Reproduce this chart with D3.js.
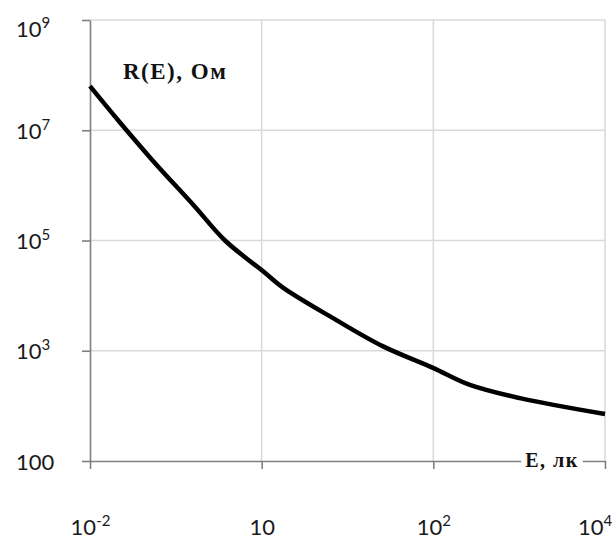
<!DOCTYPE html>
<html>
<head>
<meta charset="utf-8">
<title>R(E)</title>
<style>
  body { margin: 0; background: #fff; }
  svg { display: block; }
  .tick-label { font-family: Lato, "Open Sans", sans-serif; font-size: 22px; fill: #1a1a1a; }
  .grid line { stroke: #d9d9d9; stroke-width: 1.5px; }
  .axis path, .axis line { stroke: #7f7f7f; stroke-width: 1.6px; }
  .name { font-family: "Liberation Serif", "Times New Roman", serif; font-weight: bold; fill: #111; }
</style>
</head>
<body>
<script src="https://cdn.jsdelivr.net/npm/d3@7"></script>
<script>
// illuminance E, lx  and resistance R, Ohm
var lux = [0.01, 0.021, 0.053, 0.167, 0.374, 1.09, 1.77, 6.8, 26, 99, 267, 1020, 10000];
var ohm = [6.3e7, 1.55e7, 2.9e6, 4.1e5, 1.0e5, 2.6e4, 1.4e4, 3.9e3, 1.2e3, 490, 240, 138, 71];

var xTicks = [0.01, 1, 100, 10000],
    xTickBase = ["10", "10", "10", "10"],
    xTickExp = ["-2", "", "2", "4"];
var yTicks = [10, 1e3, 1e5, 1e7, 1e9],
    yTickBase = ["100", "10", "10", "10", "10"],
    yTickExp = ["", "3", "5", "7", "9"];

var width = 612, height = 537,
    plotL = 90, plotR = 605, plotT = 20, plotB = 461;

var svg = d3.select("body").append("svg")
    .attr("width", width)
    .attr("height", height);

var x = d3.scaleLog().domain([0.01, 10000]).range([plotL, plotR]);
var y = d3.scaleLog().domain([10, 1e9]).range([plotB, plotT]);

// grid
var grid = svg.append("g").attr("class", "grid");
grid.selectAll(".gy").data(yTicks.slice(1)).enter().append("line")
    .attr("x1", plotL).attr("x2", plotR)
    .attr("y1", function(d) { return y(d); })
    .attr("y2", function(d) { return y(d); });
grid.selectAll(".gx").data(xTicks.slice(1)).enter().append("line")
    .attr("y1", plotT).attr("y2", plotB)
    .attr("x1", function(d) { return x(d); })
    .attr("x2", function(d) { return x(d); });

// axes
var xAxis = svg.append("g")
    .attr("class", "axis")
    .attr("transform", "translate(0," + plotB + ")")
    .call(d3.axisBottom(x).tickValues(xTicks).tickFormat("").tickSize(8).tickSizeOuter(0));

var yAxis = svg.append("g")
    .attr("class", "axis")
    .attr("transform", "translate(" + plotL + ",0)")
    .call(d3.axisLeft(y).tickValues(yTicks).tickFormat("").tickSize(8).tickSizeOuter(0));

function supLabel(sel, base, exp) {
    sel.attr("class", "tick-label");
    sel.append("tspan").text(base);
    if (exp) {
        sel.append("tspan")
            .attr("dy", -9)
            .style("font-size", "15px")
            .text(exp);
    }
}

xAxis.selectAll(".tick").each(function(d, i) {
    var t = d3.select(this).append("text")
        .attr("x", 0)
        .attr("y", 74)
        .attr("text-anchor", "middle");
    supLabel(t, xTickBase[i], xTickExp[i]);
    // keep the last label inside the picture
    var b = t.node().getBBox(), over = x(d) + b.x + b.width - width;
    if (over > 0) t.attr("x", -over);
});

yAxis.selectAll(".tick").each(function(d, i) {
    var t = d3.select(this).append("text")
        .attr("x", -74)
        .attr("y", Math.max(y(d), 28) - y(d) + 8)
        .attr("text-anchor", "start");
    supLabel(t, yTickBase[i], yTickExp[i]);
});

// curve
var pts = lux.map(function(e, i) { return [e, ohm[i]]; });
svg.append("path")
    .datum(pts)
    .attr("fill", "none")
    .attr("stroke", "#000")
    .attr("stroke-width", 4.5)
    .attr("stroke-linejoin", "round")
    .attr("d", d3.line()
        .x(function(d) { return x(d[0]); })
        .y(function(d) { return y(d[1]); })
        .curve(d3.curveCatmullRom.alpha(0.5)));

// axis names
svg.append("text")
    .attr("class", "name")
    .attr("x", 123).attr("y", 79)
    .style("font-size", "23px")
    .style("letter-spacing", "1.5px")
    .text("R(E), Ом");

var xName = svg.append("text")
    .attr("class", "name")
    .attr("x", 552).attr("y", plotB + 6)
    .attr("text-anchor", "middle")
    .style("font-size", "20px")
    .style("letter-spacing", "1.5px")
    .text("E, лк");
var bb = xName.node().getBBox();
svg.insert("rect", ".name")
    .attr("x", bb.x - 4).attr("y", plotB - 4)
    .attr("width", bb.width + 8).attr("height", 8)
    .attr("fill", "#fff");
</script>
</body>
</html>
